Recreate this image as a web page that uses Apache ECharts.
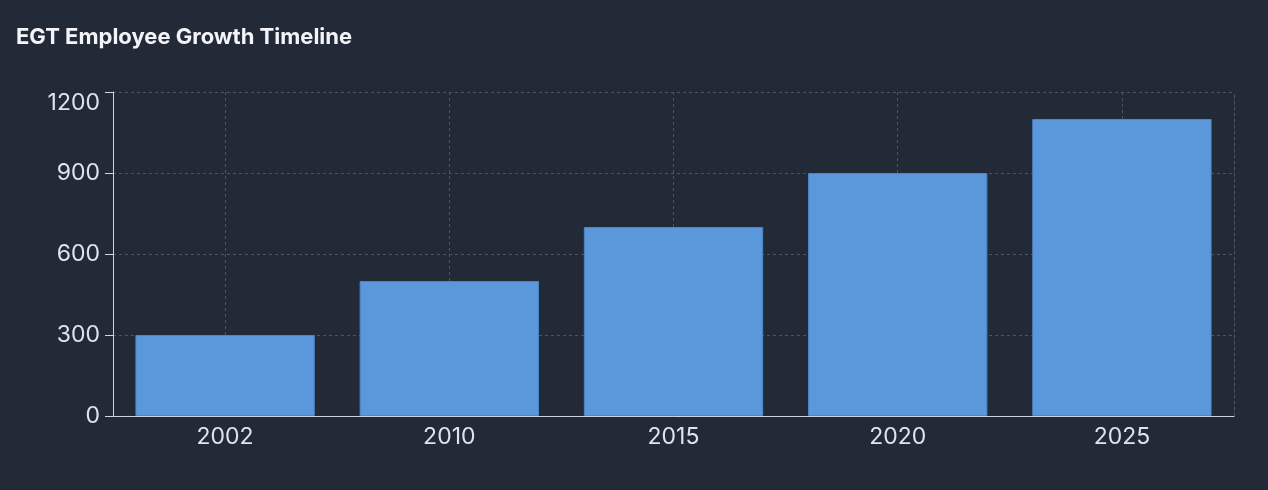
<!DOCTYPE html>
<html>
<head>
<meta charset="utf-8">
<script src="https://cdn.jsdelivr.net/npm/echarts@6/dist/echarts.min.js"></script>
<style>
html,body{margin:0;padding:0;background:#222937;}
#chart{width:1268px;height:490px;}
</style>
</head>
<body>
<div id="chart"></div>
<script>
const titleText = 'EGT Employee Growth Timeline';
const categories = ['2002', '2010', '2015', '2020', '2025'];
const employees = [300, 500, 700, 900, 1100];
const yMin = 0, yMax = 1200, yStep = 300;

const gridColor = '#4b5564';
const axisColor = '#cfd5de';
const textColor = '#dfe3ea';
const font = 'Inter, "Liberation Sans", sans-serif';

const chart = echarts.init(document.getElementById('chart'), null, {renderer: 'canvas'});
chart.setOption({
  backgroundColor: '#222937',
  animation: false,
  title: {
    text: titleText,
    left: 16, top: 26,
    padding: 0,
    textStyle: {color: '#f2f4f7', fontFamily: font, fontSize: 22, fontWeight: 700}
  },
  grid: {left: 113, right: 34, top: 92, bottom: 74},
  xAxis: [{
    type: 'category',
    data: categories,
    axisLine: {lineStyle: {color: axisColor, width: 1}},
    axisTick: {alignWithLabel: true, length: 8, lineStyle: {color: axisColor}},
    axisLabel: {color: textColor, fontFamily: font, fontSize: 23, margin: 10},
    splitLine: {show: true, alignWithLabel: true, lineStyle: {color: gridColor, type: [3, 3], width: 1}}
  }],
  yAxis: [{
    type: 'value',
    min: yMin, max: yMax, interval: yStep,
    axisLine: {show: true, lineStyle: {color: axisColor, width: 1}},
    axisTick: {show: true, length: 8, lineStyle: {color: axisColor}},
    axisLabel: {
      color: textColor, fontFamily: font, fontSize: 23, margin: 13,
      formatter: v => v === yMax ? '{top|' + v + '}' : String(v),
      rich: {top: {color: textColor, fontFamily: font, fontSize: 23, padding: [22, 0, 0, 0]}}
    },
    splitLine: {show: true, lineStyle: {color: gridColor, type: [3, 3], width: 1}}
  }, {
    type: 'value',
    position: 'right',
    min: yMin, max: yMax, interval: yStep,
    axisLine: {show: true, lineStyle: {color: gridColor, type: [3, 3], width: 1}},
    axisTick: {show: false},
    axisLabel: {show: false},
    splitLine: {show: false}
  }],
  series: [{
    type: 'bar',
    data: employees,
    barCategoryGap: '20%',
    itemStyle: {color: '#5b98db', borderColor: '#4d85c6', borderWidth: 1}
  }]
});
</script>
</body>
</html>
